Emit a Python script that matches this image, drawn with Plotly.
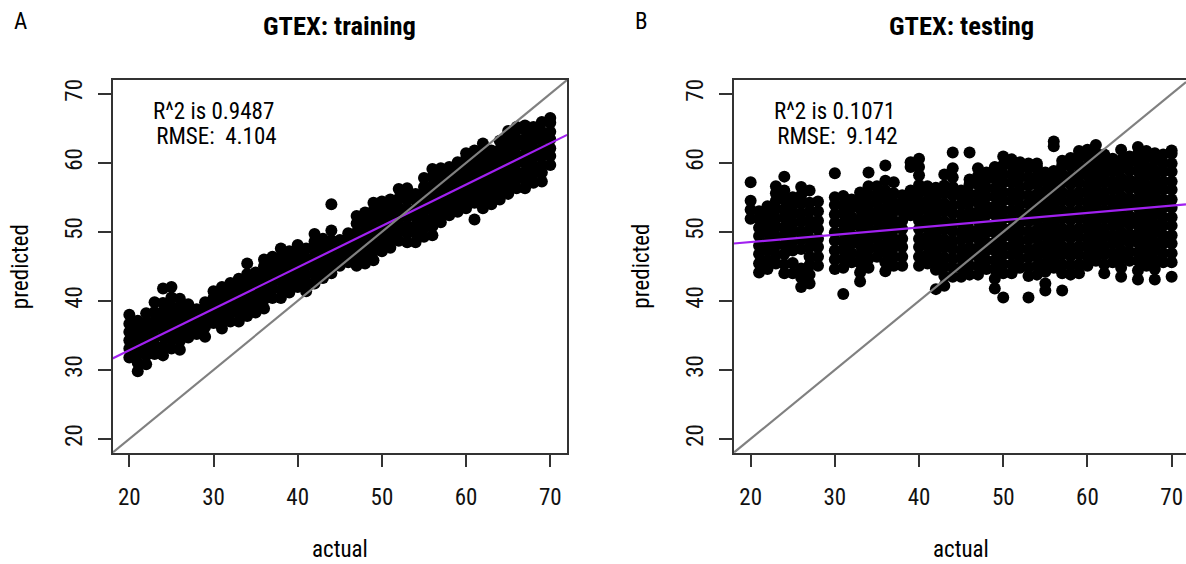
import plotly.graph_objects as go

# ---------------- data ----------------
train_ages = [20, 21, 22, 23, 24, 25, 26, 27, 28, 29, 30, 31, 32, 33, 34, 35, 36, 37, 38, 39,
              40, 41, 42, 43, 44, 45, 46, 47, 48, 49, 50, 51, 52, 53, 54, 55, 56, 57, 58, 59,
              60, 61, 62, 63, 64, 65, 66, 67, 68, 69, 70]
train_pred = [
    [31.8, 33.1, 34.3, 35.5, 36.7, 38.0],
    [29.8, 31.0, 32.3, 33.4, 34.7, 35.9, 37.1],
    [30.8, 32.1, 33.2, 34.5, 35.6, 36.9, 38.2],
    [32.3, 33.6, 34.7, 36.0, 37.1, 38.4, 39.8],
    [32.1, 33.4, 34.8, 36.0, 37.3, 38.4, 39.7, 41.8],
    [33.1, 34.4, 35.7, 36.8, 38.1, 39.2, 40.5, 42.0],
    [32.9, 34.2, 35.4, 36.7, 37.8, 39.1, 40.3],
    [34.7, 35.9, 37.2, 38.3, 39.5],
    [35.2, 36.5, 37.6, 38.8],
    [34.8, 36.2, 37.4, 38.6, 39.8],
    [36.8, 38.0, 39.3, 40.4, 41.4],
    [36.0, 37.3, 38.4, 39.7, 40.8, 42.0],
    [37.0, 38.3, 39.4, 40.7, 41.8, 42.6],
    [37.0, 38.2, 39.5, 40.6, 41.9, 43.2],
    [37.8, 39.1, 40.2, 41.5, 42.6, 43.9, 45.4],
    [38.3, 39.6, 40.7, 42.0, 43.1, 44.1],
    [38.9, 40.2, 41.3, 42.6, 43.7, 45.0, 46.0],
    [40.4, 41.7, 42.8, 44.1, 45.2, 46.4],
    [40.4, 41.6, 42.9, 44.0, 45.3, 46.4, 47.6],
    [41.2, 42.5, 43.6, 44.9, 46.0, 47.2],
    [42.0, 43.3, 44.4, 45.7, 46.8, 48.1],
    [41.4, 42.7, 43.8, 45.1, 46.2, 47.6],
    [42.5, 43.8, 44.9, 46.2, 47.3, 48.6, 49.7],
    [43.3, 44.6, 45.7, 47.0, 48.1, 49.0],
    [44.0, 45.3, 46.4, 47.7, 48.8, 50.2, 54.0],
    [45.1, 46.4, 47.5, 48.8],
    [45.6, 46.9, 48.0, 49.2, 49.8],
    [45.1, 46.4, 47.5, 48.8, 49.9, 51.2, 52.3],
    [45.4, 46.7, 47.8, 49.1, 50.2, 51.5, 52.8],
    [45.9, 47.2, 48.3, 49.6, 50.7, 52.0, 53.1, 54.2],
    [47.2, 48.5, 49.6, 50.9, 52.0, 53.3, 54.4],
    [47.7, 49.0, 50.1, 51.4, 52.5, 53.8, 54.7],
    [48.7, 50.0, 51.1, 52.4, 53.5, 54.8, 56.2],
    [48.5, 49.8, 50.9, 52.2, 53.3, 54.6, 55.7, 56.3],
    [48.5, 49.8, 50.9, 52.2, 53.3, 54.6, 55.5],
    [49.3, 50.6, 51.7, 53.0, 54.1, 55.4, 56.5, 57.8],
    [49.5, 50.8, 51.9, 53.2, 54.3, 55.6, 56.7, 58.0, 59.1],
    [51.4, 52.7, 53.8, 55.1, 56.2, 57.5, 58.6, 59.2],
    [52.4, 53.7, 54.8, 56.1, 57.2, 58.5, 59.4],
    [52.9, 54.2, 55.3, 56.6, 57.7, 59.0, 60.1],
    [53.4, 54.7, 55.8, 57.1, 58.2, 59.5, 60.6, 61.4],
    [51.8, 54.2, 55.5, 56.6, 57.9, 59.0, 60.3, 61.4, 61.8],
    [53.4, 54.7, 55.8, 57.1, 58.2, 59.5, 60.6, 61.9, 62.8],
    [54.0, 55.3, 56.4, 57.7, 58.8, 60.1, 61.2, 61.8],
    [54.7, 56.0, 57.1, 58.4, 59.5, 60.8, 61.9, 63.2],
    [55.5, 56.8, 57.9, 59.2, 60.3, 61.6, 62.7, 64.0, 64.6],
    [56.3, 57.6, 58.7, 60.0, 61.1, 62.4, 63.5, 64.8, 65.2],
    [56.3, 57.6, 58.7, 60.0, 61.1, 62.4, 63.5, 64.8, 65.4],
    [57.1, 58.4, 59.5, 60.8, 61.9, 63.2, 64.3, 65.2],
    [57.3, 58.6, 59.7, 61.0, 62.1, 63.4, 64.5, 65.9],
    [59.7, 61.0, 62.1, 63.4, 64.5, 65.8, 66.5],
]

test_ages = [20, 21, 22, 23, 24, 25, 26, 27, 28, 30, 31, 32, 33, 34, 35, 36, 37, 38, 39,
             40, 41, 42, 43, 44, 45, 46, 47, 48, 49, 50, 51, 52, 53, 54, 55, 56, 57, 58, 59,
             60, 61, 62, 63, 64, 65, 66, 67, 68, 69, 70]
test_pred = [
    [51.9, 53.2, 54.5, 57.2],
    [44.1, 45.4, 46.8, 48.0, 49.4, 50.6, 51.9, 53.0],
    [44.6, 45.9, 47.3, 48.5, 49.9, 51.1, 52.4, 53.7],
    [45.4, 46.7, 48.1, 49.3, 50.7, 51.9, 53.3, 54.5, 55.6, 56.6],
    [44.0, 45.3, 46.8, 48.1, 49.5, 50.7, 52.1, 53.3, 54.7, 56.0, 58.0],
    [44.0, 45.5, 47.3, 48.6, 50.0, 51.2, 52.6, 53.8, 55.0],
    [42.0, 43.4, 44.7, 47.5, 48.9, 50.1, 51.5, 52.7, 54.1, 55.3, 56.5],
    [42.5, 43.8, 45.2, 46.4, 47.8, 49.0, 50.4, 51.6, 53.0, 54.2, 56.0],
    [45.1, 46.4, 47.8, 49.0, 50.4, 51.6, 53.0, 54.4],
    [44.6, 46.0, 47.3, 48.7, 49.9, 51.3, 52.5, 53.9, 55.0, 58.5],
    [41.0, 44.8, 46.1, 47.5, 48.7, 50.1, 51.3, 52.7, 53.9, 55.2],
    [45.6, 46.9, 48.3, 49.5, 50.9, 52.1, 53.5, 54.7],
    [42.8, 44.1, 45.5, 46.7, 48.1, 49.3, 50.7, 51.9, 53.3, 54.5, 55.7],
    [44.8, 46.1, 47.5, 48.7, 50.1, 51.3, 52.7, 53.9, 55.3, 56.6, 58.6],
    [46.4, 47.7, 49.1, 50.3, 51.7, 52.9, 54.3, 55.5, 56.6],
    [44.3, 45.6, 47.0, 48.2, 49.6, 50.8, 52.2, 53.4, 54.8, 56.0, 57.4, 59.6],
    [45.1, 46.4, 47.8, 49.0, 50.4, 51.6, 53.0, 54.2, 55.6, 57.2],
    [45.1, 46.4, 47.8, 49.0, 50.4, 51.6, 53.0, 54.1, 55.3],
    [52.4, 53.6, 54.8, 56.0, 59.4, 60.1],
    [45.1, 46.4, 47.8, 49.0, 50.4, 51.6, 53.0, 54.2, 55.6, 56.8, 58.2, 59.4, 60.6],
    [45.4, 46.7, 48.1, 49.3, 50.7, 51.9, 53.3, 54.5, 55.9, 56.6],
    [41.7, 44.5, 45.8, 47.2, 48.4, 49.8, 51.0, 52.4, 53.6, 55.0, 56.4],
    [42.2, 43.6, 45.0, 46.3, 47.7, 48.9, 50.3, 51.5, 52.9, 54.1, 55.5, 56.7, 58.3],
    [43.5, 44.8, 46.1, 47.5, 48.7, 50.1, 51.3, 52.7, 53.9, 55.3, 56.5, 57.9, 59.2, 61.5],
    [43.5, 44.8, 46.2, 47.4, 48.8, 50.0, 51.4, 52.6, 54.0, 55.2, 56.0],
    [43.8, 45.1, 46.5, 47.7, 49.1, 50.3, 51.7, 52.9, 54.3, 55.5, 56.9, 57.6, 61.5],
    [43.8, 45.1, 46.5, 47.7, 49.1, 50.3, 51.7, 52.9, 54.3, 55.5, 56.9, 58.1, 59.2],
    [44.6, 45.9, 47.3, 48.5, 49.9, 51.1, 52.5, 53.7, 55.1, 56.3, 57.6, 58.6],
    [41.8, 43.2, 44.6, 45.9, 47.3, 48.5, 49.9, 51.1, 52.5, 53.7, 55.1, 56.3, 57.7, 58.9, 59.4],
    [40.5, 44.0, 45.3, 46.7, 47.9, 49.3, 50.5, 51.9, 53.1, 54.5, 55.7, 57.1, 58.3, 59.7, 60.9],
    [44.0, 45.3, 46.7, 47.9, 49.3, 50.5, 51.9, 53.1, 54.5, 55.7, 57.1, 58.3, 59.6, 60.5],
    [44.8, 46.1, 47.5, 48.7, 50.1, 51.3, 52.7, 53.9, 55.3, 56.5, 57.9, 59.1, 60.1],
    [40.5, 43.6, 44.9, 46.3, 47.5, 48.9, 50.1, 51.5, 52.7, 54.1, 55.3, 56.7, 57.9, 59.2, 59.9],
    [43.8, 45.1, 46.5, 47.7, 49.1, 50.3, 51.7, 52.9, 54.3, 55.5, 56.9, 58.1, 59.4, 59.9],
    [41.5, 42.5, 44.2, 45.5, 46.9, 48.1, 49.5, 50.7, 52.1, 53.3, 54.7, 55.9, 57.3, 58.6],
    [44.8, 46.1, 47.5, 48.7, 50.1, 51.3, 52.7, 53.9, 55.3, 56.5, 57.9, 58.8, 62.4, 63.1],
    [41.5, 44.0, 45.3, 46.7, 47.9, 49.3, 50.5, 51.9, 53.1, 54.5, 55.7, 57.1, 58.3, 59.6, 60.3],
    [43.8, 45.1, 46.5, 47.7, 49.1, 50.3, 51.7, 52.9, 54.3, 55.5, 56.9, 58.1, 59.5, 60.7],
    [44.0, 45.3, 46.7, 47.9, 49.3, 50.5, 51.9, 53.1, 54.5, 55.7, 57.1, 58.3, 59.7, 60.9, 61.7],
    [45.1, 46.4, 47.8, 49.0, 50.4, 51.6, 53.0, 54.2, 55.6, 56.8, 58.2, 59.4, 60.8, 61.9],
    [45.8, 47.1, 48.5, 49.7, 51.1, 52.3, 53.7, 54.9, 56.3, 57.5, 58.9, 60.1, 61.5, 62.6],
    [44.0, 45.3, 46.7, 47.9, 49.3, 50.5, 51.9, 53.1, 54.5, 55.7, 57.1, 58.3, 59.7, 60.9, 61.2],
    [45.6, 46.9, 48.3, 49.5, 50.9, 52.1, 53.5, 54.7, 56.1, 57.3, 58.7, 59.9, 60.6],
    [43.5, 44.8, 46.2, 47.4, 48.8, 50.0, 51.4, 52.6, 54.0, 55.2, 56.6, 57.8, 59.2, 60.4, 61.9],
    [45.8, 47.1, 48.5, 49.7, 51.1, 52.3, 53.7, 54.9, 56.3, 57.5, 58.9, 60.1, 60.9],
    [43.1, 44.4, 45.8, 47.0, 48.4, 49.6, 51.0, 52.2, 53.6, 54.8, 56.2, 57.4, 58.8, 60.0, 61.3, 62.3],
    [45.1, 46.4, 47.8, 49.0, 50.4, 51.6, 53.0, 54.2, 55.6, 56.8, 58.2, 59.4, 60.8, 61.7],
    [43.1, 44.6, 45.9, 47.3, 48.5, 49.9, 51.1, 52.5, 53.7, 55.1, 56.3, 57.7, 58.9, 60.3, 61.4],
    [45.6, 46.9, 48.3, 49.5, 50.9, 52.1, 53.5, 54.7, 56.1, 57.3, 58.7, 59.9, 61.2],
    [43.5, 45.6, 46.9, 48.3, 49.5, 50.9, 52.1, 53.5, 54.7, 56.1, 57.3, 58.7, 59.9, 61.3, 61.8],
]

train_fit = [20.85, 0.600]     # intercept, slope of purple fit line
test_fit = [46.41, 0.1055]
identity_fit = [0.0, 1.0]      # grey y = x line

train_stats = ["R^2 is 0.9487", "\u00a0RMSE:\u00a0\u00a04.104"]
test_stats = ["R^2 is 0.1071", "\u00a0RMSE:\u00a0\u00a09.142"]
titles = ["GTEX: training", "GTEX: testing"]
letters = ["A", "B"]
tick_vals = [20, 30, 40, 50, 60, 70]
x_label = "actual"
y_label = "predicted"

# ---------------- layout geometry ----------------
W, H = 1186, 564
FONT = "Roboto Condensed, Roboto, sans-serif"
TXT = 23
dom_y = [1 - 452.7 / H, 1 - 80 / H]
dom_x1 = [112.5 / W, 567.1 / W]
dom_x2 = [733.8 / W, 1.0]
range_x1 = [18, 72]
range_x2 = [18, 18 + (W - 733.8) / 8.42]
range_y = [18, 72]


def flatten(ages, preds):
    xs, ys = [], []
    for a, col in zip(ages, preds):
        for v in col:
            xs.append(a)
            ys.append(v)
    return xs, ys


fig = go.Figure()

panels = [
    (train_ages, train_pred, train_fit, range_x1, "x", "y"),
    (test_ages, test_pred, test_fit, range_x2, "x2", "y2"),
]
for ages, preds, fit, xr, xa, ya in panels:
    xs, ys = flatten(ages, preds)
    fig.add_trace(go.Scatter(x=xs, y=ys, mode="markers", xaxis=xa, yaxis=ya,
                             marker=dict(size=12, color="black", line=dict(width=0)),
                             hoverinfo="skip", showlegend=False))
    fig.add_trace(go.Scatter(x=xr, y=[fit[0] + fit[1] * v for v in xr], mode="lines",
                             xaxis=xa, yaxis=ya, line=dict(color="#A020F0", width=2.2),
                             hoverinfo="skip", showlegend=False))
    fig.add_trace(go.Scatter(x=xr, y=[identity_fit[0] + identity_fit[1] * v for v in xr],
                             mode="lines", xaxis=xa, yaxis=ya,
                             line=dict(color="#808080", width=2.2),
                             hoverinfo="skip", showlegend=False))

axis_common = dict(showgrid=False, zeroline=False, showline=True, linecolor="#333333",
                   linewidth=1.5, ticks="outside", ticklen=13, tickwidth=1.5,
                   tickcolor="#333333", tickvals=tick_vals,
                   tickfont=dict(family=FONT, size=TXT, color="#111111"))

fig.update_layout(
    width=W, height=H, autosize=False,
    margin=dict(l=0, r=0, t=0, b=0),
    paper_bgcolor="white", plot_bgcolor="white",
    font=dict(family=FONT, color="#111111"),
    xaxis=dict(domain=dom_x1, range=range_x1, anchor="y", mirror=True,
               ticklabelstandoff=10, **axis_common),
    yaxis=dict(domain=dom_y, range=range_y, anchor="x", mirror=True, tickangle=-90,
               ticklabelstandoff=7, **axis_common),
    xaxis2=dict(domain=dom_x2, range=range_x2, anchor="y2", mirror=True,
                ticklabelstandoff=10, **axis_common),
    yaxis2=dict(domain=dom_y, range=range_y, anchor="x2", mirror=False, tickangle=-90,
                ticklabelstandoff=7, **axis_common),
)

ann = []
centers = [(dom_x1[0] + dom_x1[1]) / 2, (733.8 + 1188.5) / 2 / W]
letter_x = [20 / W, 641.7 / W]
ylab_x = [20.8 / W, 641.3 / W]
for i in range(2):
    ann.append(dict(text="<b>" + titles[i] + "</b>", x=centers[i], y=1 - 25.8 / H,
                    xref="paper", yref="paper", showarrow=False, xanchor="center",
                    yanchor="middle", font=dict(family=FONT, size=26.5, color="black")))
    ann.append(dict(text=letters[i], x=letter_x[i], y=1 - 21 / H, xref="paper",
                    yref="paper", showarrow=False, xanchor="center", yanchor="middle",
                    font=dict(family=FONT, size=TXT, color="black")))
    ann.append(dict(text=x_label, x=centers[i], y=1 - 549 / H, xref="paper", yref="paper",
                    showarrow=False, xanchor="center", yanchor="middle",
                    font=dict(family=FONT, size=TXT, color="black")))
    ann.append(dict(text=y_label, x=ylab_x[i], y=1 - 266.4 / H, xref="paper", yref="paper",
                    showarrow=False, xanchor="center", yanchor="middle", textangle=-90,
                    font=dict(family=FONT, size=TXT, color="black")))

for stats, xa, ya in [(train_stats, "x", "y"), (test_stats, "x2", "y2")]:
    for line, yv in zip(stats, [67.47, 63.8]):
        ann.append(dict(text=line, x=30, y=yv, xref=xa, yref=ya, showarrow=False,
                        xanchor="center", yanchor="middle",
                        font=dict(family=FONT, size=TXT, color="black")))

fig.update_layout(annotations=ann)
fig.write_html("out.html", config={"displayModeBar": False},
               post_script="document.body.style.margin='0';document.body.style.overflow='hidden';")
